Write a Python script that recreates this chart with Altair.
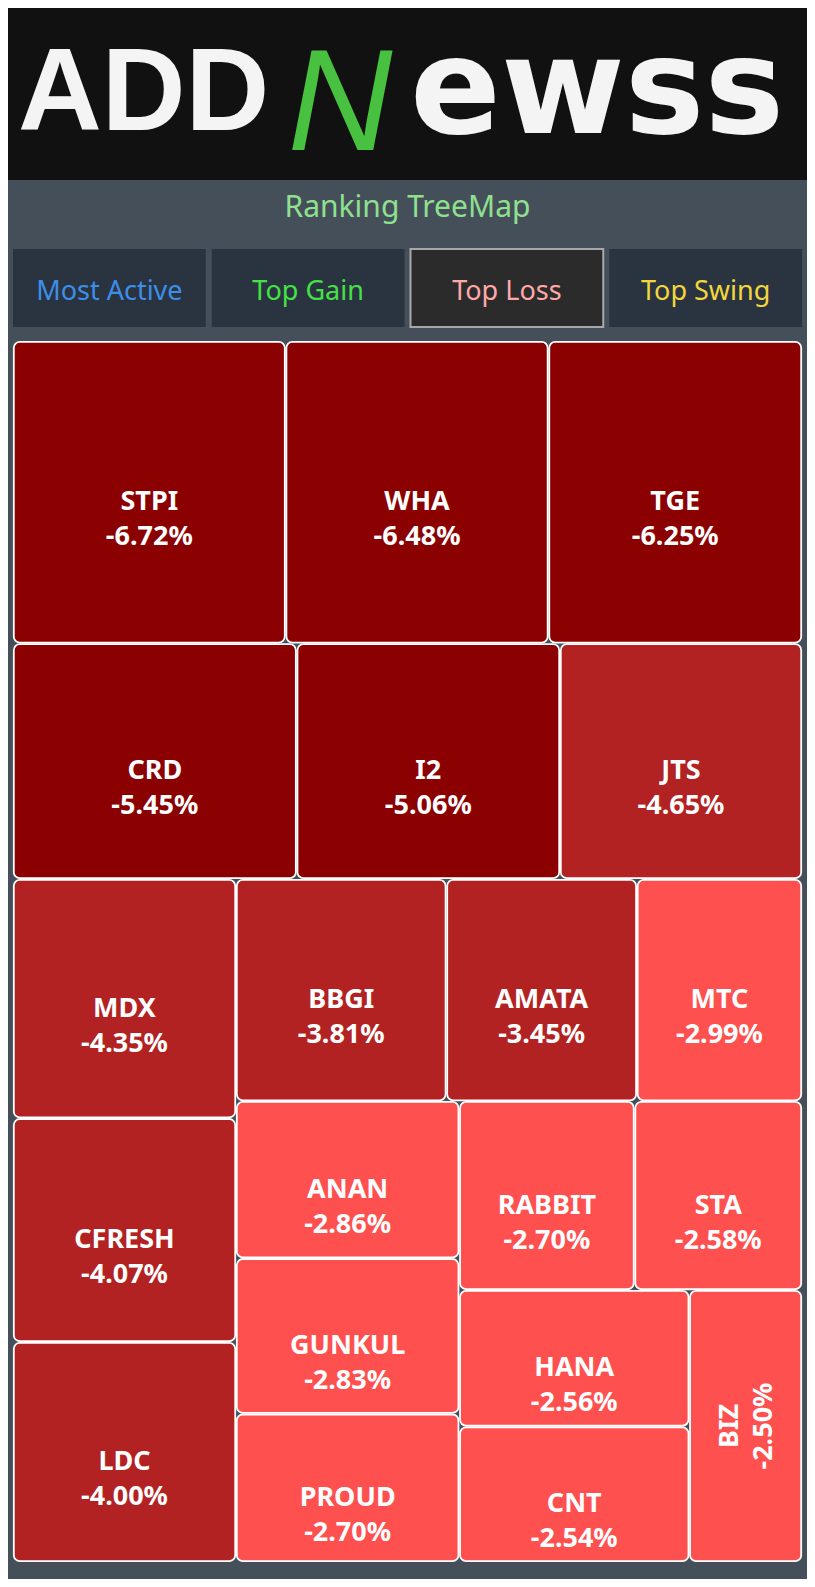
import altair as alt
import pandas as pd

# 데이터
symbols = ["STPI", "WHA", "TGE", "CRD", "I2", "JTS", "MDX", "CFRESH", "LDC", "BBGI",
           "AMATA", "MTC", "ANAN", "GUNKUL", "PROUD", "RABBIT", "STA", "HANA", "CNT", "BIZ"]
changes = [-6.72, -6.48, -6.25, -5.45, -5.06, -4.65, -4.35, -4.07, -4.00, -3.81,
           -3.45, -2.99, -2.86, -2.83, -2.70, -2.70, -2.58, -2.56, -2.54, -2.50]
tabs = ["Most Active", "Top Gain", "Top Loss", "Top Swing"]
tab_colors = ["#3d8ee8", "#45e045", "#ffa8a8", "#f2d63c"]
active_tab = "Top Loss"

# 페이지 좌표 (px)
W, H = 815, 1587
MAP = (13, 341, 802, 1562)
BG = "#444f5a"


def squarify(values, x0, y0, x1, y1):
    """squarified treemap (ratio 1)"""
    rects = []
    total = float(sum(values))
    i0, n = 0, len(values)
    while i0 < n:
        dx, dy = x1 - x0, y1 - y0
        s = values[i0]
        vmin = vmax = s
        alpha = max(dy / dx, dx / dy) / total
        beta = s * s * alpha
        best = max(vmax / beta, beta / vmin)
        i1 = i0 + 1
        while i1 < n:
            v = values[i1]
            beta = (s + v) ** 2 * alpha
            r = max(max(vmax, v) / beta, beta / min(vmin, v))
            if r > best:
                break
            s += v
            vmin, vmax, best = min(vmin, v), max(vmax, v), r
            i1 += 1
        row = values[i0:i1]
        if dx < dy:
            h = dy * s / total
            cx = x0
            for v in row:
                w = dx * v / s
                rects.append((cx, y0, cx + w, y0 + h))
                cx += w
            y0 += h
        else:
            w = dx * s / total
            cy = y0
            for v in row:
                h = dy * v / s
                rects.append((x0, cy, x0 + w, cy + h))
                cy += h
            x0 += w
        total -= s
        i0 = i1
    return rects


def band(c):
    if c <= -5:
        return "deep"
    if c <= -3:
        return "mid"
    return "light"


rects = squarify([abs(c) for c in changes], *MAP)
gap = 0.8
tiles = pd.DataFrame({
    "symbol": symbols,
    "pct": [f"{c:.2f}%" for c in changes],
    "band": [band(c) for c in changes],
    "x0": [r[0] + gap for r in rects],
    "x1": [r[2] - gap for r in rects],
    "y0": [r[1] + gap for r in rects],
    "y1": [r[3] - gap for r in rects],
})
tiles["cx"] = (tiles.x0 + tiles.x1) / 2
tiles["cy"] = (tiles.y0 + tiles.y1) / 2
tiles["rot"] = (tiles.y1 - tiles.y0) > 2 * (tiles.x1 - tiles.x0)

# 버튼
bw = (MAP[2] - MAP[0] - 3 * 6) / 4
buttons = pd.DataFrame({
    "label": tabs,
    "color": tab_colors,
    "active": [t == active_tab for t in tabs],
    "x0": [MAP[0] + i * (bw + 6) for i in range(4)],
})
buttons["x1"] = buttons.x0 + bw
buttons["cx"] = buttons.x0 + bw / 2

# 공통 스케일 (데이터 단위 = 페이지 px)
xs = alt.Scale(domain=[8, W - 8], nice=False, zero=False)
ys = alt.Scale(domain=[8, H - 8], nice=False, zero=False, reverse=True)


def X(f):
    return alt.X(f, scale=xs, axis=None)


def Y(f):
    return alt.Y(f, scale=ys, axis=None)


one = pd.DataFrame({"x0": [0], "x1": [W], "y0": [0], "y1": [180]})

header = alt.Chart(one).mark_rect(color="#111111").encode(
    x=X("x0:Q"), x2="x1", y=Y("y0:Q"), y2="y1")

logo_add = alt.Chart(one).mark_text(
    text="ADD", font="Liberation Sans", fontWeight="bold", fontSize=116,
    color="#f4f4f4", align="left", baseline="alphabetic"
).encode(x=alt.value(18 - 8), y=alt.value(130 - 8))

logo_n = alt.Chart(one).mark_text(
    text="N", font="Liberation Sans", fontStyle="italic", fontSize=145,
    color="#48c040", align="center", baseline="alphabetic"
).encode(x=alt.value(340 - 8), y=alt.value(150 - 8))

logo_ewss = alt.Chart(one).mark_text(
    text="ewss", font="DejaVu Sans", fontWeight="bold", fontSize=134,
    color="#f4f4f4", align="left", baseline="alphabetic"
).encode(x=alt.value(410 - 8), y=alt.value(133 - 8))

title = alt.Chart(one).mark_text(
    text="Ranking TreeMap", font="Noto Sans", fontSize=30, color="#8fe08f",
    align="center", baseline="alphabetic"
).encode(x=alt.value(W / 2 - 8), y=alt.value(217 - 8))

btn_box = alt.Chart(buttons).mark_rect().encode(
    x=X("x0:Q"), x2="x1",
    y=alt.value(249 - 8), y2=alt.value(327 - 8),
    fill=alt.condition("datum.active", alt.value("#2b2b2b"), alt.value("#2a3441")),
    stroke=alt.condition("datum.active", alt.value("#a8a8a8"), alt.value("transparent")),
    strokeWidth=alt.value(2),
)
btn_text = alt.Chart(buttons).mark_text(
    font="Noto Sans", fontSize=27, baseline="alphabetic"
).encode(
    x=X("cx:Q"), y=alt.value(300 - 8),
    text="label:N", color=alt.Color("color:N", scale=None),
)

tile_rect = alt.Chart(tiles).mark_rect(
    stroke="white", strokeWidth=1.8, cornerRadius=6
).encode(
    x=X("x0:Q"), x2="x1", y=Y("y0:Q"), y2="y1",
    color=alt.Color("band:N", legend=None, scale=alt.Scale(
        domain=["deep", "mid", "light"], range=["#8b0000", "#b22222", "#ff5050"])),
)

flat = alt.Chart(tiles).transform_filter("!datum.rot")
rot = alt.Chart(tiles).transform_filter("datum.rot")
txt = dict(font="Noto Sans", fontWeight="bold", fontSize=27, color="white",
           align="center", baseline="middle")

name_flat = flat.mark_text(dy=10, **txt).encode(x=X("cx:Q"), y=Y("cy:Q"), text="symbol:N")
pct_flat = flat.mark_text(dy=45, **txt).encode(x=X("cx:Q"), y=Y("cy:Q"), text="pct:N")
name_rot = rot.mark_text(dy=-16, angle=270, **txt).encode(x=X("cx:Q"), y=Y("cy:Q"), text="symbol:N")
pct_rot = rot.mark_text(dy=18, angle=270, **txt).encode(x=X("cx:Q"), y=Y("cy:Q"), text="pct:N")

chart = alt.layer(
    header, logo_add, logo_n, logo_ewss, title, btn_box, btn_text,
    tile_rect, name_flat, pct_flat, name_rot, pct_rot
).properties(
    width=W - 16, height=H - 16, padding=0, background=BG,
    autosize=alt.AutoSizeParams(type="none"),
).configure_view(stroke=None)

chart.save("out.html", embed_options={"renderer": "svg", "actions": False})
